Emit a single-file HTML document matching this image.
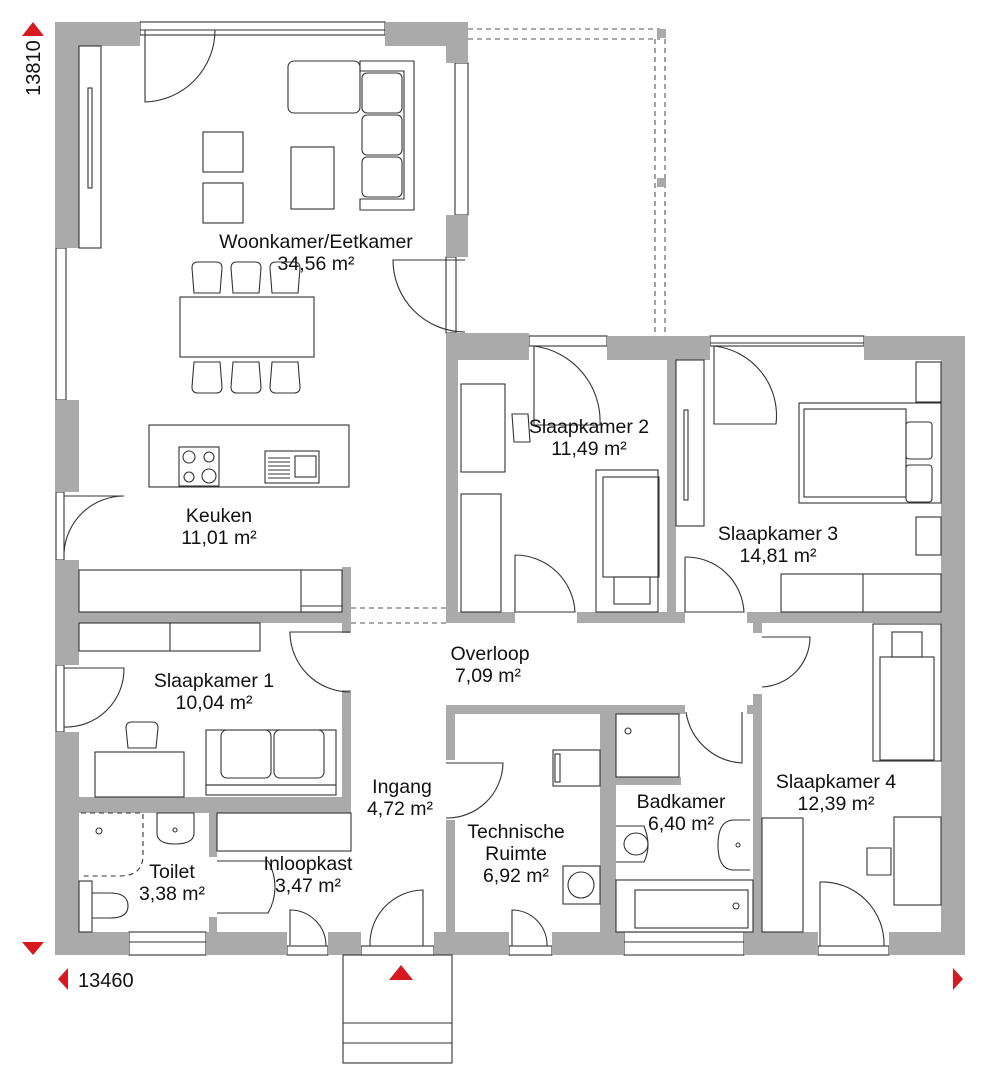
<!DOCTYPE html>
<html><head><meta charset="utf-8"><style>
html,body{margin:0;padding:0;background:#fff;}
svg{display:block;}
text{font-family:"Liberation Sans",sans-serif;font-size:19.5px;fill:#111;text-anchor:middle;}
.f{fill:none;stroke:#333;stroke-width:1.1;}
.w{fill:#aaa;}
.d{fill:none;stroke:#555;stroke-width:1.1;stroke-dasharray:5,4;}
</style></head><body>
<svg width="995" height="1080" viewBox="0 0 995 1080" xmlns="http://www.w3.org/2000/svg">
<path class="d" d="M468 29H660M468 39H660M655 39V333M665 39V333"/>
<rect x="657" y="29" width="9" height="9" fill="#aaa"/>
<rect x="657" y="178" width="9" height="9" fill="#aaa"/>
<path class="d" d="M351 608H446M351 623H446"/>

<g class="f">
<rect x="140" y="22" width="245" height="13"/>
<path d="M140 30H385"/>
<rect x="455" y="63" width="13" height="152"/>
<rect x="56" y="248" width="10" height="152"/>
<rect x="56" y="492" width="8" height="68"/>
<rect x="56" y="665" width="8" height="67"/>
<rect x="129" y="932" width="77" height="23"/><path d="M129 942H206"/>
<rect x="624" y="932" width="120" height="23"/><path d="M624 942H744"/>
<rect x="529" y="336" width="78" height="10"/>
<rect x="710" y="336" width="154" height="10"/><path d="M710 343H864"/>
<rect x="287" y="946" width="41" height="9"/>
<rect x="361" y="946" width="73" height="9"/>
<rect x="509" y="946" width="43" height="9"/>
<rect x="818" y="946" width="71" height="9"/>
<rect x="446" y="257" width="10" height="76"/>
</g>

<g class="w">
<path d="M55 22H140V46H79V248H55Z"/>
<rect x="55" y="400" width="24" height="92"/>
<rect x="55" y="560" width="24" height="105"/>
<path d="M55 732H79V932H129V955H55Z"/>
<rect x="206" y="932" width="81" height="23"/>
<rect x="328" y="932" width="33" height="23"/>
<rect x="434" y="932" width="75" height="23"/>
<rect x="552" y="932" width="72" height="23"/>
<rect x="744" y="932" width="74" height="23"/>
<path d="M889 932H941V360H864V336H965V955H889Z"/>
<path d="M385 22H468V63H446V46H385Z"/>
<rect x="446" y="215" width="22" height="42"/>
<path d="M446 333H529V360H458V612H515V623H446Z"/>
<rect x="607" y="336" width="103" height="24"/>
<rect x="667" y="360" width="9" height="252"/>
<rect x="577" y="612" width="108" height="11"/>
<rect x="747" y="612" width="194" height="11"/>
<rect x="753" y="623" width="9" height="10"/>
<rect x="79" y="612" width="272" height="11"/>
<rect x="342" y="567" width="9" height="66"/>
<rect x="342" y="690" width="9" height="123"/>
<rect x="79" y="797" width="272" height="16"/>
<rect x="209" y="813" width="8" height="44"/>
<rect x="209" y="917" width="8" height="15"/>
<rect x="446" y="705" width="239" height="9"/>
<rect x="446" y="705" width="9" height="55"/>
<rect x="446" y="820" width="9" height="112"/>
<rect x="600" y="714" width="16" height="218"/>
<rect x="616" y="777" width="65" height="8"/>
<rect x="753" y="694" width="9" height="238"/>
<rect x="747" y="705" width="6" height="9"/>
</g>

<g class="f">
<path d="M145 30V102A72 72 0 0 0 215 30"/>
<path d="M465 260H393A72 72 0 0 0 465 332"/>
<path d="M64 496H124A60 60 0 0 0 64 553"/>
<path d="M64 668H124A58 58 0 0 1 64 727"/>
<path d="M350 632H290A60 60 0 0 0 350 692"/>
<path d="M534 346V425H600A76 76 0 0 0 534 346"/>
<path d="M714 346V424H776A70 70 0 0 0 714 346"/>
<path d="M515 555V612H575A60 60 0 0 0 515 555"/>
<path d="M685 557V612H744A58 58 0 0 0 685 557"/>
<path d="M762 637H810A50 50 0 0 1 762 687"/>
<path d="M686 712A60 60 0 0 0 742 763V712"/>
<path d="M446 763H503A56 56 0 0 1 446 818"/>
<path d="M217 861H268A52 52 0 0 1 268 913H217"/>
<path d="M290 945V910A36 36 0 0 1 326 946"/>
<path d="M370 946A54 54 0 0 1 423 890V946"/>
<path d="M512 946V910A35 35 0 0 1 547 946"/>
<path d="M820 946V882A62 62 0 0 1 884 946"/>
</g>

<g class="f">
<rect x="79" y="46" width="22" height="202"/><rect x="88" y="88" width="4" height="100"/>
<rect x="203" y="132" width="40" height="40"/><rect x="203" y="183" width="40" height="40"/>
<rect x="291" y="147" width="43" height="62"/>
<path d="M360 61H414V210H360V199H404V71H360Z"/>
<rect x="288" y="61" width="72" height="52" rx="6"/>
<rect x="362" y="73" width="40" height="40" rx="5"/><rect x="362" y="115" width="40" height="40" rx="5"/><rect x="362" y="157" width="40" height="40" rx="5"/>
<rect x="180" y="297" width="134" height="60"/>
<path d="M194 293L192 268Q192 262 198 262H216Q222 262 222 268L220 293Z"/>
<path d="M233 293L231 268Q231 262 237 262H255Q261 262 261 268L259 293Z"/>
<path d="M272 293L270 268Q270 262 276 262H294Q300 262 300 268L298 293Z"/>
<path d="M194 362L192 387Q192 393 198 393H216Q222 393 222 387L220 362Z"/>
<path d="M233 362L231 387Q231 393 237 393H255Q261 393 261 387L259 362Z"/>
<path d="M272 362L270 387Q270 393 276 393H294Q300 393 300 387L298 362Z"/>
<rect x="149" y="425" width="200" height="62"/>
<rect x="179" y="447" width="40" height="39"/>
<circle cx="189" cy="457" r="6"/><circle cx="209" cy="457" r="5"/><circle cx="189" cy="477" r="5"/><circle cx="209" cy="476" r="7"/>
<rect x="265" y="451" width="54" height="32"/><rect x="295" y="456" width="21" height="21"/>
<path d="M268 458H290M268 462H290M268 466H290M268 470H290M268 474H290M268 478H290"/>
<rect x="79" y="570" width="263" height="42"/><path d="M301 570V612M301 606H342"/>
<rect x="79" y="623" width="181" height="28"/><path d="M170 623V651"/>
<rect x="95" y="752" width="89" height="45"/>
<path d="M128 748L126 728Q126 722 132 722H152Q158 722 158 728L156 748Z"/>
<rect x="206" y="730" width="130" height="55"/>
<rect x="221" y="730" width="50" height="48" rx="6"/><rect x="274" y="730" width="50" height="48" rx="6"/>
<rect x="206" y="785" width="130" height="10"/>
<path d="M81 813H143V855Q143 876 120 876H81" stroke-dasharray="5,4"/>
<circle cx="99" cy="831" r="3"/>
<path d="M157 813V833Q157 844 175 844Q194 844 194 833V813Z"/><circle cx="175" cy="830" r="2"/>
<rect x="79" y="881" width="13" height="51"/>
<path d="M92 893H110Q128 893 128 906Q128 918 110 918H92"/>
<rect x="217" y="813" width="134" height="38"/>
<rect x="461" y="384" width="44" height="88"/><rect x="461" y="494" width="40" height="118"/>
<path d="M512 414L528 414L530 442L514 442Z"/>
<rect x="596" y="470" width="62" height="142"/><rect x="603" y="477" width="56" height="100"/><rect x="614" y="577" width="36" height="27"/>
<rect x="676" y="360" width="28" height="166"/><rect x="684" y="410" width="4" height="90"/>
<rect x="916" y="362" width="25" height="40"/>
<rect x="799" y="403" width="142" height="100"/><rect x="804" y="409" width="102" height="88"/>
<rect x="906" y="422" width="26" height="37" rx="3"/><rect x="906" y="465" width="26" height="37" rx="3"/>
<rect x="916" y="517" width="25" height="38"/>
<rect x="781" y="574" width="160" height="38"/><path d="M863 574V612"/>
<rect x="553" y="750" width="47" height="36"/><rect x="555" y="754" width="5" height="28"/>
<rect x="616" y="714" width="63" height="63"/><circle cx="628" cy="731" r="3"/>
<path d="M616 826H644Q652 846 644 862H616"/><ellipse cx="636" cy="844" rx="12" ry="11"/>
<path d="M750 820H734Q718 820 718 845Q718 870 734 870H750"/><circle cx="738" cy="845" r="2"/>
<rect x="616" y="880" width="137" height="52"/><rect x="635" y="890" width="113" height="38"/><circle cx="736" cy="906" r="3"/>
<rect x="563" y="866" width="37" height="38"/><circle cx="581" cy="885" r="13"/>
<rect x="873" y="624" width="68" height="137"/><rect x="880" y="657" width="54" height="103"/><rect x="892" y="632" width="30" height="25"/>
<rect x="762" y="818" width="41" height="114"/>
<rect x="894" y="817" width="47" height="88"/>
<path d="M867 848L891 848L891 875L867 875Z"/>
</g>

<g class="f">
<rect x="343" y="955" width="109" height="108"/>
<path d="M343 1023H452M343 1043H452"/>
</g>

<g fill="#d71920">
<path d="M22 36L33 22L44 36Z"/>
<path d="M22 942L44 942L33 955Z"/>
<path d="M389 980L401 965L413 980Z"/>
<path d="M68 968L58 979L68 990Z"/>
<path d="M953 968L963 979L953 990Z"/>
</g>
<text x="0" y="0" transform="translate(40,68) rotate(-90)" style="font-size:20px">13810</text>
<text x="78" y="987" style="text-anchor:start;font-size:20px">13460</text>

<text x="316" y="248">Woonkamer/Eetkamer</text><text x="316" y="270">34,56 m²</text>
<text x="219" y="522">Keuken</text><text x="219" y="544">11,01 m²</text>
<text x="589" y="433">Slaapkamer 2</text><text x="589" y="455">11,49 m²</text>
<text x="778" y="540">Slaapkamer 3</text><text x="778" y="562">14,81 m²</text>
<text x="490" y="660">Overloop</text><text x="488" y="682">7,09 m²</text>
<text x="214" y="687">Slaapkamer 1</text><text x="214" y="709">10,04 m²</text>
<text x="402" y="793">Ingang</text><text x="400" y="815">4,72 m²</text>
<text x="681" y="808">Badkamer</text><text x="681" y="830">6,40 m²</text>
<text x="836" y="788">Slaapkamer 4</text><text x="836" y="810">12,39 m²</text>
<text x="516" y="838">Technische</text><text x="516" y="860">Ruimte</text><text x="516" y="882">6,92 m²</text>
<text x="172" y="878">Toilet</text><text x="172" y="900">3,38 m²</text>
<text x="308" y="870">Inloopkast</text><text x="308" y="892">3,47 m²</text>
</svg>
</body></html>
